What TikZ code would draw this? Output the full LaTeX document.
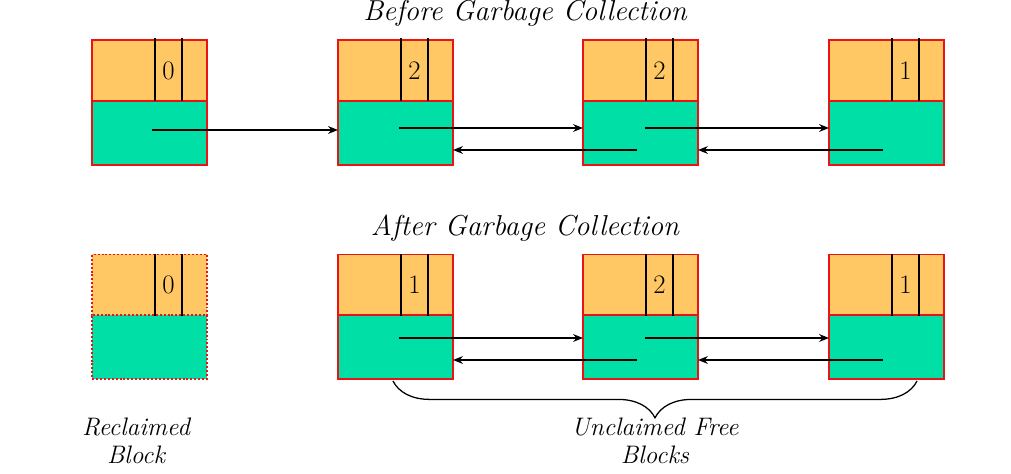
\documentclass[tikz,border=0pt]{standalone}
\usetikzlibrary{arrows.meta,decorations.pathreplacing}
\definecolor{topfill}{RGB}{255,200,100}
\definecolor{botfill}{RGB}{0,224,166}
\definecolor{edge}{RGB}{235,20,20}
\begin{document}
\begin{tikzpicture}[x=0.025cm,y=-0.025cm,
  half/.style={draw=edge,line width=1.4pt,minimum width=2.875cm,inner sep=0pt,outer sep=0pt},
  tophalf/.style={half,fill=topfill,minimum height=1.525cm},
  bothalf/.style={half,fill=botfill,minimum height=1.6cm},
  dotted half/.style={dash pattern=on 1.4pt off 1.4pt},
  sep/.style={line width=1pt},
  num/.style={font=\fontsize{19}{22}\selectfont},
  arr/.style={line width=0.9pt,-{Stealth[length=7pt,width=5.5pt]}},
  lab/.style={font=\fontsize{18}{20}\selectfont\itshape,align=center},
  ttl/.style={font=\fontsize{20.5}{24}\selectfont\itshape}]
\useasboundingbox (0,0) rectangle (1011,473);
% titles
\node[ttl] (t1) at (525,13) {Before Garbage Collection};
\node[ttl] (t2) at (525,228) {After Garbage Collection};
% top row blocks
\foreach \n/\x/\v in {a/149.5/0,b/395.5/2,c/640.5/2,d/886.5/1}{
  \node[tophalf] (\n t) at (\x,70.5) {};
  \node[bothalf] (\n b) at (\x,133) {};
  \draw[sep] ([xshift=0.1375cm]\n t.south) -- ++(0,-63);
  \draw[sep] ([xshift=0.8125cm]\n t.south) -- ++(0,-63);
  \node[num] (\n n) at ([xshift=0.475cm]\n t.center) {\v};
}
% bottom row blocks
\node[tophalf,dotted half] (rt) at (149.5,285) {};
\node[bothalf,dotted half] (rb) at (149.5,347) {};
\draw[sep] ([xshift=0.1375cm]rt.south) -- ++(0,-62);
\draw[sep] ([xshift=0.8125cm]rt.south) -- ++(0,-62);
\node[num] (rn) at ([xshift=0.475cm]rt.center) {0};
\foreach \n/\x/\v in {e/395.5/1,f/640.5/2,g/886.5/1}{
  \node[tophalf] (\n t) at (\x,285) {};
  \node[bothalf] (\n b) at (\x,347) {};
  \draw[sep] ([xshift=0.1375cm]\n t.south) -- ++(0,-62);
  \draw[sep] ([xshift=0.8125cm]\n t.south) -- ++(0,-62);
  \node[num] (\n n) at ([xshift=0.475cm]\n t.center) {\v};
}
% arrows top row
\draw[arr] ([xshift=0.05cm,yshift=0.075cm]ab.center) -- ([yshift=0.075cm]bb.west);
\draw[arr] ([xshift=0.09cm,yshift=0.125cm]bb.center) -- ([yshift=0.125cm]cb.west);
\draw[arr] ([xshift=-0.09cm,yshift=-0.425cm]cb.center) -- ([yshift=-0.425cm]bb.east);
\draw[arr] ([xshift=0.11cm,yshift=0.125cm]cb.center) -- ([yshift=0.125cm]db.west);
\draw[arr] ([xshift=-0.09cm,yshift=-0.425cm]db.center) -- ([yshift=-0.425cm]cb.east);
% arrows bottom row
\draw[arr] ([xshift=0.09cm,yshift=0.225cm]eb.center) -- ([yshift=0.225cm]fb.west);
\draw[arr] ([xshift=-0.09cm,yshift=-0.325cm]fb.center) -- ([yshift=-0.325cm]eb.east);
\draw[arr] ([xshift=0.11cm,yshift=0.225cm]fb.center) -- ([yshift=0.225cm]gb.west);
\draw[arr] ([xshift=-0.09cm,yshift=-0.325cm]gb.center) -- ([yshift=-0.325cm]fb.east);
% brace
\coordinate (bl) at (393,381);
\coordinate (br) at (917,381);
\draw[line width=0.9pt,decorate,decoration={brace,mirror,amplitude=0.92cm}] (bl) -- (br);
% labels
\node[lab] (ul) at (655,441) {Unclaimed Free\\Blocks};
\node[lab] (rl) at (136,441) {Reclaimed\\Block};
\end{tikzpicture}
\end{document}
